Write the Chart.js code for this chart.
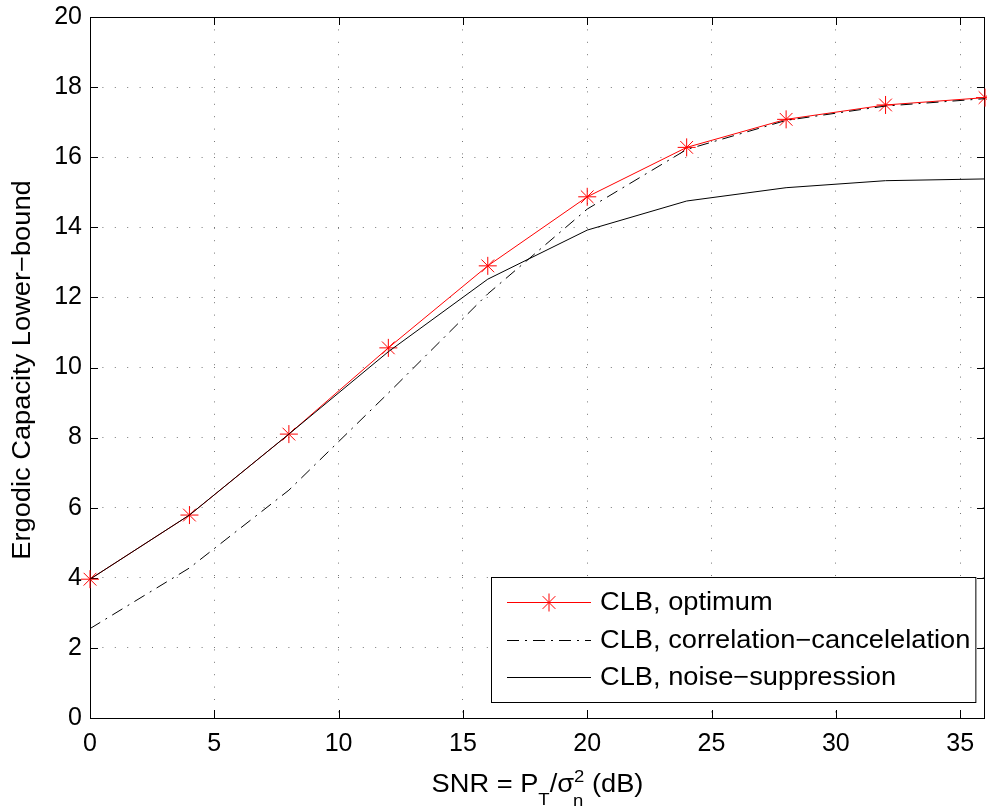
<!DOCTYPE html>
<html>
<head>
<meta charset="utf-8">
<script src="https://cdn.jsdelivr.net/npm/chart.js@4/dist/chart.umd.min.js"></script>
<style>
  html, body { margin: 0; padding: 0; background: #fff; }
  canvas { display: block; }
</style>
</head>
<body>
<canvas id="capacidad" width="987" height="809"></canvas>
<script>
// SNR (dB) en el eje x
const snr = [0, 4, 8, 12, 16, 20, 24, 28, 32, 36];
const optimum = [3.96, 5.79, 8.1, 10.56, 12.9, 14.87, 16.28, 17.08, 17.49, 17.7];
const corrCancel = [2.55, 4.28, 6.5, 9.27, 12.1, 14.52, 16.22, 17.05, 17.46, 17.67];
const noiseSupp = [3.96, 5.79, 8.1, 10.45, 12.52, 13.92, 14.75, 15.13, 15.33, 15.38];

const seriesLabels = ['CLB, optimum', 'CLB, correlation\u2212cancelelation', 'CLB, noise\u2212suppression'];
const yTitle = 'Ergodic Capacity Lower\u2212bound';

const FONT = '"Liberation Sans", Arial, Helvetica, sans-serif';
const STRETCH = 1.09;

function toPoints(values) {
    return snr.map((x, i) => ({ x: x, y: values[i] }));
}

// texto algo mas ancho, como en la figura original
function stretchText(ctx, text, x, y) {
    ctx.save();
    ctx.translate(x, y);
    ctx.scale(STRETCH, 1);
    ctx.fillText(text, 0, 0);
    ctx.restore();
    return ctx.measureText(text).width * STRETCH;
}

const framePlugin = {
    id: 'framePlugin',
    // caja y marcas debajo de las curvas
    beforeDatasetsDraw(chart) {
        const ctx = chart.ctx;
        const ca = chart.chartArea;
        const xs = chart.scales.x;
        const ys = chart.scales.y;

        ctx.save();
        ctx.strokeStyle = '#000';
        ctx.lineWidth = 1;
        ctx.setLineDash([]);
        ctx.strokeRect(Math.round(ca.left) + 0.5, Math.round(ca.top) + 0.5,
            Math.round(ca.right - ca.left) - 1, Math.round(ca.bottom - ca.top));

        const tl = 8;
        ctx.beginPath();
        xs.ticks.forEach(t => {
            const px = Math.round(xs.getPixelForValue(t.value)) + 0.5;
            ctx.moveTo(px, ca.bottom); ctx.lineTo(px, ca.bottom - tl);
            ctx.moveTo(px, ca.top); ctx.lineTo(px, ca.top + tl);
        });
        ys.ticks.forEach(t => {
            const py = Math.round(ys.getPixelForValue(t.value)) + 0.5;
            ctx.moveTo(ca.left, py); ctx.lineTo(ca.left + tl, py);
            ctx.moveTo(ca.right, py); ctx.lineTo(ca.right - tl, py);
        });
        ctx.stroke();
        ctx.restore();
    },
    afterDraw(chart) {
        const ctx = chart.ctx;
        const ca = chart.chartArea;
        ctx.save();

        // leyenda abajo a la derecha
        ctx.font = '25px ' + FONT;
        const maxW = Math.max(...seriesLabels.map(s => ctx.measureText(s).width)) * STRETCH;
        const boxW = 109 + maxW + 5;
        const boxH = 125;
        const bx = Math.round(ca.right - 10 - boxW);
        const by = Math.round(ca.bottom - 16 - boxH);
        ctx.fillStyle = '#fff';
        ctx.fillRect(bx, by, boxW, boxH);
        ctx.strokeStyle = '#000';
        ctx.lineWidth = 1;
        ctx.strokeRect(bx + 0.5, by + 0.5, boxW, boxH);

        const rows = [25, 63, 100];
        chart.data.datasets.forEach((ds, i) => {
            const ry = by + rows[i] + 0.5;
            ctx.save();
            ctx.strokeStyle = ds.borderColor;
            ctx.lineWidth = ds.borderWidth;
            ctx.setLineDash(ds.borderDash || []);
            ctx.beginPath();
            ctx.moveTo(bx + 16, ry);
            ctx.lineTo(bx + 100, ry);
            ctx.stroke();
            ctx.setLineDash([]);
            if (ds.pointRadius > 0) {
                ctx.fillStyle = ds.borderColor;
                Chart.helpers.drawPoint(ctx, {
                    pointStyle: ds.pointStyle, radius: ds.pointRadius,
                    borderWidth: ds.pointBorderWidth, rotation: 0
                }, bx + 58, ry);
            }
            ctx.restore();
            ctx.fillStyle = '#000';
            ctx.textBaseline = 'middle';
            stretchText(ctx, seriesLabels[i], bx + 109, by + rows[i] + 1);
        });

        // titulo del eje y
        ctx.save();
        ctx.translate(23, 370);
        ctx.rotate(-Math.PI / 2);
        ctx.textBaseline = 'middle';
        ctx.font = '25px ' + FONT;
        const yw = ctx.measureText(yTitle).width * STRETCH;
        stretchText(ctx, yTitle, -yw / 2, 0);
        ctx.restore();

        // titulo del eje x: SNR = P_T / sigma_n^2 (dB)
        const big = '25px ' + FONT;
        const small = '17px ' + FONT;
        const parts = [
            { t: 'SNR = P', f: big, dy: 0 },
            { t: 'T', f: small, dy: 13 },
            { t: '/\u03c3', f: big, dy: 0 },
            { t: '2', f: small, dy: -10, stack: 'n' },
            { t: ' (dB)', f: big, dy: 0 }
        ];
        let total = 0;
        parts.forEach(p => {
            ctx.font = p.f;
            p.w = ctx.measureText(p.t).width * STRETCH;
            total += p.w;
        });
        let cx = (ca.left + ca.right) / 2 - total / 2;
        const base = 792;
        ctx.textBaseline = 'alphabetic';
        ctx.fillStyle = '#000';
        parts.forEach(p => {
            ctx.font = p.f;
            stretchText(ctx, p.t, cx, base + p.dy);
            if (p.stack) {
                stretchText(ctx, p.stack, cx - 1, base + 14);
            }
            cx += p.w;
        });
        ctx.restore();
    }
};

const ctx = document.getElementById('capacidad').getContext('2d');
const chart = new Chart(ctx, {
    type: 'line',
    data: {
        datasets: [{
            label: seriesLabels[0],
            data: toPoints(optimum),
            borderColor: '#ff0000',
            backgroundColor: '#ff0000',
            borderWidth: 1,
            pointStyle: 'star',
            pointRadius: 9,
            pointBorderWidth: 1,
            pointBorderColor: '#ff0000',
            fill: false,
            tension: 0,
            clip: false,
            order: 3
        }, {
            label: seriesLabels[1],
            data: toPoints(corrCancel),
            borderColor: '#000',
            borderWidth: 1,
            borderDash: [12, 6, 2, 6],
            pointRadius: 0,
            fill: false,
            tension: 0,
            order: 2
        }, {
            label: seriesLabels[2],
            data: toPoints(noiseSupp),
            borderColor: '#000',
            borderWidth: 1,
            pointRadius: 0,
            fill: false,
            tension: 0,
            order: 1
        }]
    },
    options: {
        responsive: false,
        animation: false,
        events: [],
        layout: { autoPadding: false, padding: { top: 17, right: 2, left: 0, bottom: 0 } },
        scales: {
            x: {
                type: 'linear',
                min: 0,
                max: 36,
                afterFit: s => {
                    s.height = 91;
                    s.paddingLeft = 0;
                    s.paddingRight = 0;
                },
                grid: { color: '#777', lineWidth: 1, drawTicks: false },
                border: { display: false, dash: [1, 11.4] },
                ticks: {
                    stepSize: 5,
                    includeBounds: false,
                    autoSkip: false,
                    maxRotation: 0,
                    padding: 11,
                    color: '#000',
                    font: { family: FONT, size: 25 }
                }
            },
            y: {
                min: 0,
                max: 20,
                afterFit: s => {
                    s.width = 90;
                    s.paddingTop = 0;
                    s.paddingBottom = 0;
                },
                grid: { color: '#777', lineWidth: 1, drawTicks: false },
                border: { display: false, dash: [1, 11.4] },
                ticks: {
                    stepSize: 2,
                    padding: 8,
                    color: '#000',
                    font: { family: FONT, size: 25 }
                }
            }
        },
        plugins: {
            legend: { display: false },
            tooltip: { enabled: false },
            title: { display: false }
        }
    },
    plugins: [framePlugin]
});
</script>
</body>
</html>
